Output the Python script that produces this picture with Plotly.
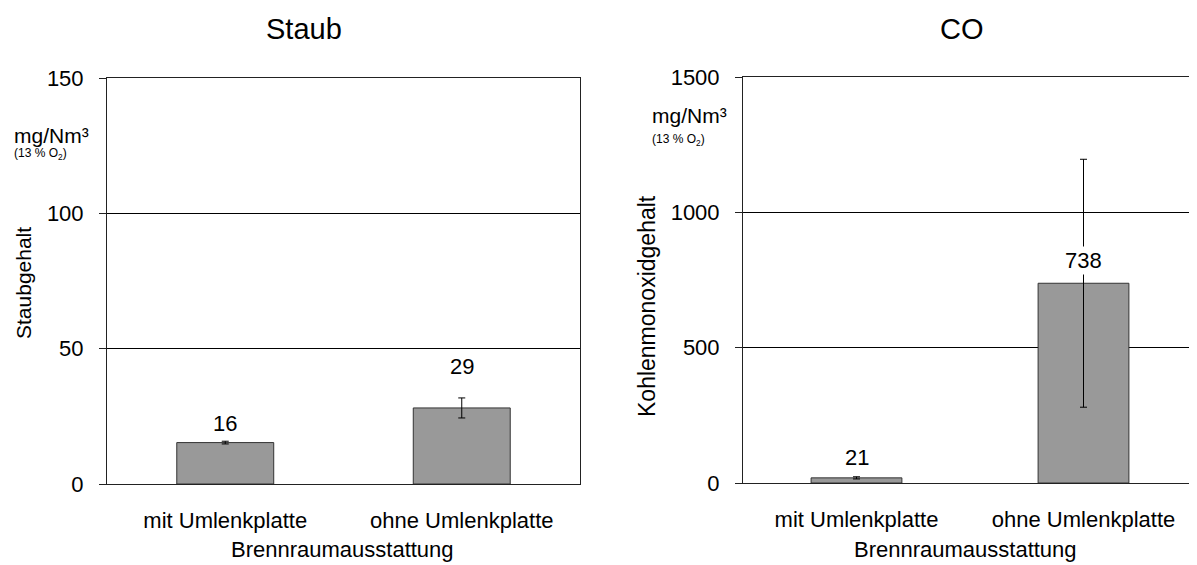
import plotly.graph_objects as go

# data
categories = ["mit Umlenkplatte", "ohne Umlenkplatte"]

staub_values = [15.3, 28.1]
staub_errors = [0.5, 3.7]
staub_labels = ["16", "29"]

co_values = [19, 738]
co_errors = [4, 458]
co_labels = ["21", "738"]

staub_ticks = [0, 50, 100, 150]
co_ticks = [0, 500, 1000, 1500]

FONT = "Liberation Sans, Arial, sans-serif"
BAR_FILL = "#999999"
BAR_LINE = "#333333"

fig = go.Figure()

fig.add_trace(go.Bar(
    x=categories, y=staub_values, xaxis="x", yaxis="y",
    width=0.41,
    marker=dict(color=BAR_FILL, line=dict(color=BAR_LINE, width=1)),
    error_y=dict(type="data", array=staub_errors, color="black", thickness=1, width=3.5),
    showlegend=False, hoverinfo="skip",
))
fig.add_trace(go.Bar(
    x=categories, y=co_values, xaxis="x2", yaxis="y2",
    width=0.40,
    marker=dict(color=BAR_FILL, line=dict(color=BAR_LINE, width=1)),
    error_y=dict(type="data", array=co_errors, color="black", thickness=1, width=3.5),
    showlegend=False, hoverinfo="skip",
))

W, H = 1197, 565
OFF = 8  # page body margin around the plot div

def px_x(p):
    return (p - OFF) / W
def px_y(p):
    return 1 - (p - OFF) / H

axis_common = dict(
    showline=True, linecolor="#222222", linewidth=1,
    tickfont=dict(family=FONT, size=22, color="black"),
    fixedrange=True, automargin=False,
)
yaxis_common = dict(
    ticks="outside", ticklen=7, tickcolor="#222222", ticklabelstandoff=11,
    showgrid=True, gridcolor="black", gridwidth=1, zeroline=False,
)
xaxis_common = dict(ticks="", showgrid=False, mirror=True, ticklabelstandoff=17)

fig.update_layout(
    width=W, height=H,
    margin=dict(l=0, r=0, t=0, b=0, autoexpand=False),
    paper_bgcolor="white", plot_bgcolor="white",
    font=dict(family=FONT, color="black"),
    xaxis=dict(domain=[px_x(107), px_x(580)], anchor="y", **xaxis_common, **axis_common),
    yaxis=dict(domain=[px_y(484), px_y(78)], anchor="x", range=[0, 150],
               tickvals=staub_ticks, mirror=True, **yaxis_common, **axis_common),
    xaxis2=dict(domain=[px_x(743), px_x(1197)], anchor="y2", **xaxis_common, **axis_common),
    yaxis2=dict(domain=[px_y(483), px_y(77)], anchor="x2", range=[0, 1500],
                tickvals=co_ticks, **yaxis_common, **axis_common),
)

def paper_text(text, x, y, size, xanchor="center", angle=0):
    return dict(text=text, x=px_x(x), y=px_y(y), xref="paper", yref="paper",
                xanchor=xanchor, yanchor="middle", textangle=angle, showarrow=False,
                font=dict(size=size, family=FONT, color="black"))

ann = [
    # titles
    paper_text("Staub", 304, 29, 29),
    paper_text("CO", 962, 29, 29),
    # x-axis titles
    paper_text("Brennraumausstattung", 342, 549, 22),
    paper_text("Brennraumausstattung", 965, 549, 22),
    # y-axis titles
    paper_text("Staubgehalt", 23, 283, 21, angle=-90),
    paper_text("Kohlenmonoxidgehalt", 647, 306, 23, angle=-90),
    # units
    paper_text("mg/Nm³", 12, 135, 21, xanchor="left"),
    paper_text("(13 % O<sub>2</sub>)", 12, 154, 12, xanchor="left"),
    paper_text("mg/Nm³", 650, 116, 21, xanchor="left"),
    paper_text("(13 % O<sub>2</sub>)", 650, 140, 12, xanchor="left"),
]

# value labels
staub_shift = [19, 41]
co_shift = [20, 23]
for c, v, lab, s in zip(categories, staub_values, staub_labels, staub_shift):
    ann.append(dict(text=lab, x=c, y=v, xref="x", yref="y", yshift=s, showarrow=False,
                    bgcolor="white", font=dict(size=22, family=FONT)))
for c, v, lab, s in zip(categories, co_values, co_labels, co_shift):
    ann.append(dict(text=lab, x=c, y=v, xref="x2", yref="y2", yshift=s, showarrow=False,
                    bgcolor="white", font=dict(size=22, family=FONT)))

fig.update_layout(annotations=ann)

fig.write_html("out.html")
